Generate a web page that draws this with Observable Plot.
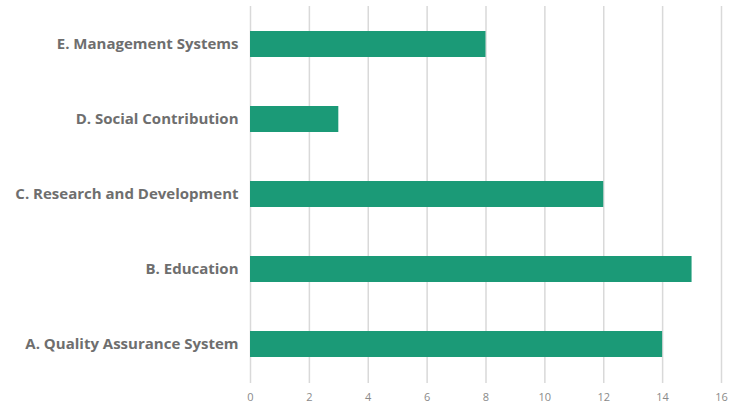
<!DOCTYPE html>
<html>
<head>
<meta charset="utf-8">
<script src="https://cdn.jsdelivr.net/npm/d3@7"></script>
<script src="https://cdn.jsdelivr.net/npm/@observablehq/plot@0.6"></script>
<style>
  html, body { margin: 0; padding: 0; background: #fff; }
  #chart svg { display: block; }
</style>
</head>
<body>
<div id="chart"></div>
<script>
const categories = [
  "E. Management Systems",
  "D. Social Contribution",
  "C. Research and Development",
  "B. Education",
  "A. Quality Assurance System"
];
const values = [8, 3, 12, 15, 14];
const xTicks = [0, 2, 4, 6, 8, 10, 12, 14, 16];

const data = categories.map((c, i) => ({category: c, value: values[i]}));

const chart = Plot.plot({
  width: 732,
  height: 410,
  marginLeft: 250,
  marginRight: 11,
  marginTop: 6,
  marginBottom: 27,
  style: {background: "#fff", fontFamily: "'Open Sans', Lato, sans-serif"},
  x: {domain: [0, 16], ticks: xTicks, label: null},
  y: {domain: categories, paddingInner: 0.65, paddingOuter: 0.325, label: null},
  marks: [
    Plot.ruleX(xTicks, {stroke: "#d9d9d9", strokeWidth: 1.5}),
    Plot.barX(data, {x: "value", y: "category", fill: "#1b9a77"}),
    Plot.axisX({ticks: xTicks, tickSize: 0, tickPadding: 10, fontSize: 11, color: "#8a8a8a", label: null}),
    Plot.axisY({tickSize: 0, tickPadding: 12, fontSize: 15, fontWeight: "bold", color: "#6e6e6e", label: null})
  ]
});
document.getElementById("chart").appendChild(chart);
</script>
</body>
</html>
